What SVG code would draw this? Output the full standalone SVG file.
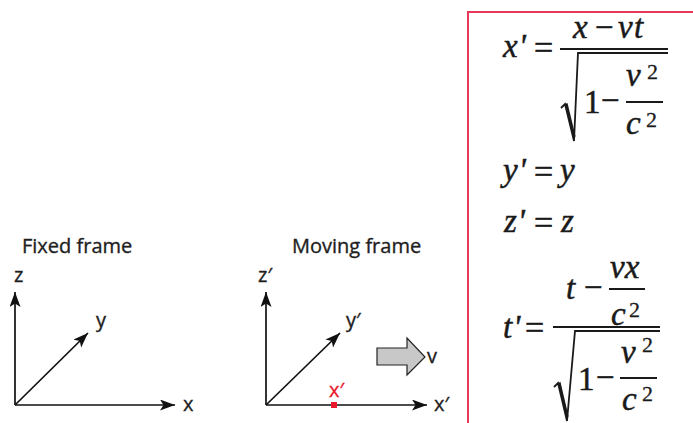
<svg xmlns="http://www.w3.org/2000/svg" width="693" height="423" viewBox="0 0 693 423">
<style>
.lbl{font-family:"Open Sans","Liberation Sans",sans-serif;font-size:20px;fill:#1e1e1e;stroke:#1e1e1e;stroke-width:0.35}
.red{fill:#e8192c;stroke:#e8192c}
.ax{stroke:#111;stroke-width:1.7;fill:none}
.mi{font-family:"Liberation Serif","Times New Roman",serif;font-style:italic;font-size:33px;fill:#1a1a1a;stroke:#1a1a1a;stroke-width:0.5}
.mn{font-family:"Liberation Serif","Times New Roman",serif;font-size:33px;fill:#1a1a1a;stroke:#1a1a1a;stroke-width:0.5}
.eq{font-family:"Liberation Serif","Times New Roman",serif;font-size:34px;fill:#1a1a1a;stroke:#1a1a1a;stroke-width:0.6}
.sup{font-family:"Liberation Serif","Times New Roman",serif;font-size:22px;fill:#1a1a1a;stroke:#1a1a1a;stroke-width:0.3}
.bar{stroke:#1a1a1a;stroke-width:1.8;fill:none}
</style>
<defs>
<marker id="ah" markerUnits="userSpaceOnUse" markerWidth="16" markerHeight="12" refX="15" refY="5.5" orient="auto">
<path d="M0,0 L15,5.5 L0,11 L3.5,5.5 Z" fill="#111"/>
</marker>
</defs>
<rect width="693" height="423" fill="#fff"/>

<g id="connectors">
<line class="ax" x1="15" y1="405" x2="15" y2="292" marker-end="url(#ah)"/>
<line class="ax" x1="15" y1="405" x2="175" y2="405" marker-end="url(#ah)"/>
<line class="ax" x1="15" y1="405" x2="88" y2="333" marker-end="url(#ah)"/>
<line class="ax" x1="266" y1="405" x2="266" y2="292" marker-end="url(#ah)"/>
<line class="ax" x1="266" y1="405" x2="427" y2="405" marker-end="url(#ah)"/>
<line class="ax" x1="266" y1="405" x2="340" y2="333" marker-end="url(#ah)"/>
</g>

<g id="fixed-frame">
<text class="lbl" x="22" y="253">Fixed frame</text>
<text class="lbl" x="14" y="282">z</text>
<text class="lbl" x="96" y="327">y</text>
<text class="lbl" x="183" y="411">x</text>
</g>

<g id="moving-frame">
<text class="lbl" x="292" y="253">Moving frame</text>
<text class="lbl" x="258" y="282">z′</text>
<text class="lbl" x="346" y="327">y′</text>
<text class="lbl" x="434" y="411">x′</text>
<text class="lbl red" x="329" y="397">x′</text>
<rect x="331" y="402" width="6" height="6" fill="#e8192c"/>
</g>

<g id="velocity">
<path d="M377 348 H407 V338 L425 357 L407 375 V365 H377 Z" fill="#c8c8c8" stroke="#222" stroke-width="1.2"/>
<text class="lbl" x="427" y="363">v</text>
</g>

<g id="equations">
<rect x="468" y="12" width="240" height="420" fill="none" stroke="#e8395a" stroke-width="2"/>

<!-- x' -->
<text class="mi" x="503" y="57">x<tspan class="mn" dx="1">'</tspan></text>
<text class="eq" x="534" y="59">=</text>
<line class="bar" x1="560" y1="49" x2="668" y2="49"/>
<text class="mi" x="573" y="38">x</text>
<text class="mn" x="595" y="38">−</text>
<text class="mi" x="618" y="38">v</text>
<text class="mi" x="634" y="38">t</text>
<path class="bar" d="M561 108 L565 104 L574 141 L578 53 H668"/>
<path d="M565 104 L567.5 103 L575.5 136 L574 141 Z" fill="#1a1a1a"/>
<text class="mn" x="584" y="113">1</text>
<text class="mn" x="601" y="111">−</text>
<line class="bar" x1="626" y1="102" x2="663" y2="102"/>
<text class="mi" x="626" y="86">v</text>
<text class="sup" x="647" y="79">2</text>
<text class="mi" x="626" y="134">c</text>
<text class="sup" x="646" y="127">2</text>

<!-- y' z' -->
<text class="mi" x="503" y="181">y<tspan class="mn" dx="1">'</tspan></text>
<text class="eq" x="534" y="183">=</text>
<text class="mi" x="560" y="181">y</text>
<text class="mi" x="504" y="232">z<tspan class="mn" dx="1">'</tspan></text>
<text class="eq" x="534" y="234">=</text>
<text class="mi" x="561" y="232">z</text>

<!-- t' -->
<text class="mi" x="503" y="338">t<tspan class="mn" dx="1">'</tspan></text>
<text class="eq" x="525" y="339">=</text>
<line class="bar" x1="553" y1="327" x2="660" y2="327"/>
<text class="mi" x="566" y="299">t</text>
<text class="mn" x="584" y="298">−</text>
<line class="bar" x1="609" y1="289" x2="645" y2="289"/>
<text class="mi" x="610" y="278">vx</text>
<text class="mi" x="611" y="325">c</text>
<text class="sup" x="629" y="317">2</text>
<path class="bar" d="M554 387 L558 383 L567 421 L575 331 H660"/>
<path d="M558 383 L560.5 382 L568.5 416 L567 421 Z" fill="#1a1a1a"/>
<text class="mn" x="578" y="390">1</text>
<text class="mn" x="596" y="388">−</text>
<line class="bar" x1="620" y1="378" x2="657" y2="378"/>
<text class="mi" x="621" y="363">v</text>
<text class="sup" x="642" y="352">2</text>
<text class="mi" x="622" y="410">c</text>
<text class="sup" x="642" y="401">2</text>
</g>
</svg>
